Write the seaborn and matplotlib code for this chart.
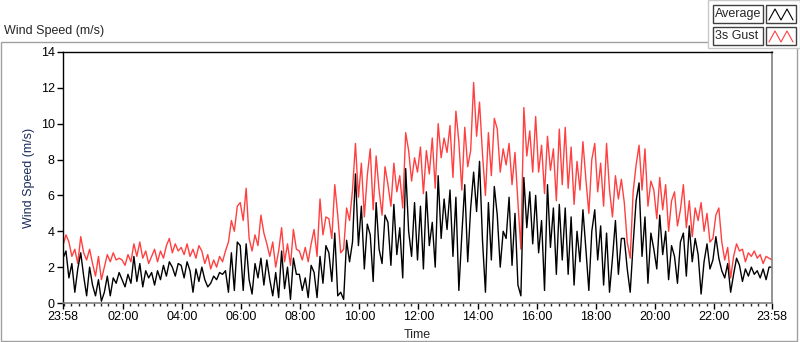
import numpy as np
import pandas as pd
import matplotlib.pyplot as plt
import seaborn as sns
from matplotlib.patches import Rectangle
from matplotlib.lines import Line2D

# samples every 6 minutes, starting 23:58 (m/s)
STEP_MIN = 6

gust = [
    3.2, 3.8, 3.4, 2.6, 3.0, 2.2, 3.7, 2.8, 2.4, 3.0,
    2.2, 1.5, 2.6, 1.3, 2.0, 2.7, 2.3, 2.8, 2.4, 2.5,
    2.4, 2.1, 2.7, 2.3, 3.3, 2.6, 3.4, 2.5, 2.9, 2.2,
    2.6, 3.0, 2.3, 2.9, 2.5, 3.2, 3.6, 2.8, 3.3, 2.9,
    3.1, 2.7, 3.3, 2.6, 3.0, 2.5, 3.2, 2.9, 2.2, 2.7,
    1.9, 2.4, 2.0, 2.6, 2.3, 2.9, 3.4, 4.6, 4.0, 5.4,
    5.6, 4.6, 6.4, 3.6, 2.9, 3.8, 3.2, 4.9, 3.9, 3.3,
    2.6, 3.4, 2.0, 2.9, 4.2, 2.3, 3.3, 2.1, 4.1, 3.0,
    2.9, 2.4, 3.1, 2.3, 3.3, 4.1, 2.6, 5.8, 3.8, 4.8,
    4.7, 3.6, 6.6, 4.9, 2.8, 3.0, 5.3, 4.6, 6.3, 8.9,
    5.9, 7.8, 4.8, 7.1, 8.6, 5.2, 8.2, 6.3, 4.9, 7.6,
    6.6, 5.4, 7.8, 6.2, 7.1, 5.3, 9.5, 8.5, 6.8, 8.1,
    7.3, 8.7, 6.1, 8.5, 7.2, 9.2, 6.4, 10.0, 8.1, 9.2,
    8.4, 9.9, 7.0, 10.7, 9.0, 6.3, 9.8, 7.6, 8.5, 12.3,
    9.3, 11.2, 8.3, 6.0, 9.5, 7.1, 10.3, 9.7, 7.3, 8.6,
    7.7, 8.9, 6.6, 8.4, 5.6, 3.0, 10.9, 8.2, 9.6, 7.3,
    10.4, 7.3, 8.8, 6.1, 9.3, 7.4, 8.6, 5.7, 9.7, 6.6,
    9.8, 6.4, 8.7, 5.5, 7.9, 6.3, 9.0, 6.9, 5.0, 8.0,
    8.9, 6.2, 7.8, 5.4, 8.9, 6.3, 4.8, 7.1, 5.8, 6.9,
    5.6, 3.4, 2.5, 6.2, 7.7, 8.8, 6.3, 8.6, 5.4, 6.8,
    6.3, 4.7, 7.0, 5.2, 6.6, 4.0, 5.7, 6.2, 4.3, 5.2,
    6.6, 4.2, 5.7, 3.7, 5.3, 4.6, 5.6, 4.0, 5.0, 3.4,
    3.6, 4.9, 5.3, 3.4, 2.4, 3.1, 1.4, 2.6, 3.3, 2.9,
    3.0, 2.3, 2.8, 2.6, 2.9, 2.5, 2.7, 2.2, 2.6, 2.5,
    2.4,
]

average = [
    2.5, 2.9, 1.4, 2.2, 0.6, 1.9, 2.8, 1.5, 0.4, 2.0,
    1.0, 0.4, 1.3, 0.1, 0.6, 1.5, 0.4, 1.4, 1.1, 1.7,
    1.3, 0.9, 1.6, 1.1, 2.6, 1.2, 2.2, 0.9, 1.8, 1.4,
    1.7, 1.0, 1.8, 1.3, 2.1, 1.5, 2.3, 2.0, 1.5, 2.2,
    2.1, 1.4, 2.3, 1.8, 0.6, 1.9, 1.2, 2.0, 1.3, 0.9,
    1.1, 1.5, 1.3, 1.7, 1.6, 1.8, 0.6, 2.8, 0.7, 3.4,
    3.2, 0.7, 3.3, 1.3, 0.5, 2.2, 1.4, 2.5, 1.0, 2.4,
    1.3, 0.4, 1.7, 0.3, 2.9, 0.8, 2.0, 0.2, 2.5, 1.6,
    1.6, 0.7, 1.4, 0.3, 2.1, 1.7, 0.3, 2.6, 1.1, 3.2,
    2.8, 1.2, 3.9, 0.4, 0.6, 0.2, 3.5, 2.3, 3.4, 7.2,
    3.2, 5.4, 1.9, 4.4, 3.8, 1.2, 5.6, 3.0, 2.2, 4.9,
    4.5, 2.1, 5.5, 2.7, 4.2, 1.4, 7.5, 4.0, 2.6, 5.6,
    2.4, 5.4, 1.9, 6.2, 3.2, 4.5, 2.0, 7.1, 3.6, 5.8,
    4.1, 6.3, 2.6, 5.9, 0.7, 3.8, 6.6, 2.3, 5.3, 7.3,
    5.1, 7.9, 3.5, 0.6, 5.6, 2.4, 6.5, 4.9, 2.0, 4.0,
    3.6, 5.9, 2.1, 5.0, 1.0, 0.4, 7.0, 4.2, 6.2, 3.3,
    6.0, 2.8, 4.6, 0.7, 6.6, 3.1, 5.3, 1.6, 5.5, 2.4,
    5.3, 1.6, 4.8, 1.0, 4.0, 2.3, 5.2, 3.0, 0.7, 4.0,
    5.2, 2.4, 4.3, 1.0, 3.9, 0.6, 2.5, 4.6, 1.6, 3.6,
    3.6, 1.9, 0.6, 3.3, 5.7, 6.7, 2.6, 4.8, 1.1, 3.9,
    3.0, 1.9, 4.9, 2.7, 4.0, 1.3, 3.2, 2.6, 1.1, 3.4,
    3.9, 1.5, 4.3, 2.3, 3.6, 2.7, 0.5, 2.3, 3.3, 1.9,
    2.4, 3.7, 2.5, 1.8, 1.4, 2.2, 0.6, 1.6, 2.5, 2.1,
    1.2, 1.9, 1.5, 2.0, 1.6, 1.8, 1.4, 1.9, 1.3, 2.0,
    2.0,
]

tick_labels = ["23:58", "02:00", "04:00", "06:00", "08:00", "10:00", "12:00",
               "14:00", "16:00", "18:00", "20:00", "22:00", "23:58"]

minutes = np.arange(len(gust)) * STEP_MIN
df = pd.DataFrame({"minutes": minutes, "gust": gust, "average": average})

sns.set_style("white")
plt.rcParams["font.family"] = ["Liberation Sans", "DejaVu Sans"]

fig = plt.figure(figsize=(8, 3.42), dpi=100)
ax = fig.add_axes([63 / 800, 1 - 303 / 342, 709 / 800, 251 / 342])

sns.lineplot(data=df, x="minutes", y="gust", color="#ff4040", linewidth=1.0,
             estimator=None, ax=ax)
sns.lineplot(data=df, x="minutes", y="average", color="black", linewidth=1.0,
             estimator=None, ax=ax)

ax.set_xlim(0, 1440)
ax.set_ylim(0, 14)
major = [0] + [h * 60 + 2 for h in range(2, 24, 2)] + [1440]
ax.set_xticks(major)
ax.set_xticklabels(tick_labels)
ax.set_xticks(np.arange(2, 1440, 15), minor=True)
ax.set_yticks(range(0, 15, 2))
ax.tick_params(axis="both", which="major", direction="out", length=4, width=1,
               labelsize=9, pad=2, bottom=True, left=True, colors="black")
ax.tick_params(axis="x", which="minor", direction="out", length=2.5, width=1,
               bottom=True)
ax.set_xlabel("Time", fontsize=9, labelpad=4)
ax.set_ylabel("Wind Speed (m/s)", fontsize=9, color="#1a2a5a", labelpad=4)

for side in ["left", "top"]:
    ax.spines[side].set_color("black")
    ax.spines[side].set_linewidth(1)
for side in ["right", "bottom"]:
    ax.spines[side].set_color("#808080")
    ax.spines[side].set_linewidth(1.2)

# outer panel frame and title
fig.add_artist(Rectangle((0.001, 0.003), 0.995, 1 - 42 / 342 - 0.003,
                         transform=fig.transFigure, fill=False,
                         edgecolor="#a0a0a0", linewidth=1))
fig.text(4 / 800, 1 - 31 / 342, "Wind Speed (m/s)", fontsize=9,
         va="center", ha="left")

# legend panel
fig.add_artist(Rectangle((708 / 800, 1 - 48 / 342), 92 / 800, 48 / 342,
                         transform=fig.transFigure, facecolor="white",
                         edgecolor="#c8c8c8", linewidth=1, zorder=5))
for i, (name, col) in enumerate([("Average", "black"), ("3s Gust", "#ff4040")]):
    top = 5 + i * 22
    fig.add_artist(Rectangle((713 / 800, 1 - (top + 18) / 342), 50 / 800, 18 / 342,
                             transform=fig.transFigure, facecolor="white",
                             edgecolor="#404040", linewidth=1, zorder=6))
    fig.text(715 / 800, 1 - (top + 9) / 342, name, fontsize=9,
             va="center", ha="left", zorder=7)
    fig.add_artist(Rectangle((766 / 800, 1 - (top + 18) / 342), 30 / 800, 18 / 342,
                             transform=fig.transFigure, facecolor="white",
                             edgecolor="#404040", linewidth=1, zorder=6))
    zx = np.array([769, 775, 781, 787, 793]) / 800
    zy = 1 - (top + np.array([15, 4, 15, 4, 15])) / 342
    fig.add_artist(Line2D(zx, zy, transform=fig.transFigure, color=col,
                          linewidth=0.8, zorder=7))

fig.savefig("out.png", dpi=100)
